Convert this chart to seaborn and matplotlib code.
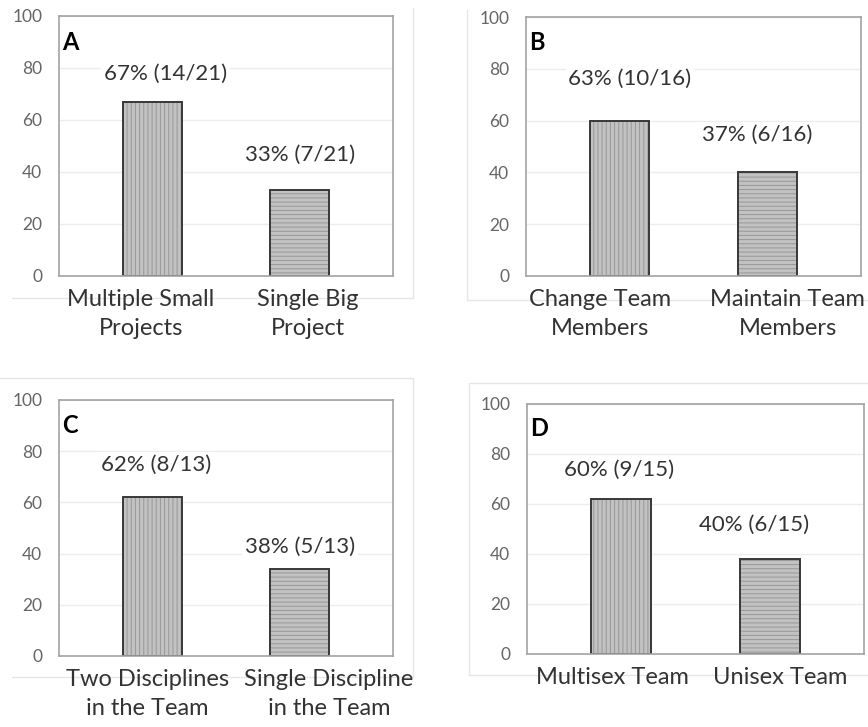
import matplotlib
matplotlib.use("Agg")
import matplotlib.pyplot as plt
import matplotlib.transforms as mtrans
import seaborn as sns
from matplotlib.lines import Line2D

# ---------------------------------
# data
# ---------------------------------
panel_letters = ["A", "B", "C", "D"]

cats_a = ["Multiple Small\nProjects", "Single Big\nProject"]
vals_a = [67, 33]
labels_a = ["67% (14/21)", "33% (7/21)"]

cats_b = ["Change Team\nMembers", "Maintain Team\nMembers"]
vals_b = [60, 40]
labels_b = ["63% (10/16)", "37% (6/16)"]

cats_c = ["Two Disciplines\nin the Team", "Single Discipline\nin the Team"]
vals_c = [62, 34]
labels_c = ["62% (8/13)", "38% (5/13)"]

cats_d = ["Multisex Team", "Unisex Team"]
vals_d = [62, 38]
labels_d = ["60% (9/15)", "40% (6/15)"]

y_ticks = [0, 20, 40, 60, 80, 100]

# ---------------------------------
# layout tweaks (label placement as in the original)
# ---------------------------------
# axes boxes in pixels: left, top, right, bottom
boxes = [(59, 16, 393, 276), (526, 17, 861, 276),
         (59, 400, 393, 656), (527, 404, 864, 654)]
# data-label offsets above bar top (y units) and sideways (x units)
lab_dy = [(10.7, 13.5), (16, 14.4), (12.6, 8.6), (11.6, 13.6)]
lab_dx = [(0.09, 0.0), (0.07, -0.07), (0.03, 0.0), (-0.01, -0.11)]
# horizontal nudge of category labels, pixels
tick_dx = [(-11, 8), (-19, 20), (-5, 29), (-9, 10)]

# ---------------------------------
# style
# ---------------------------------
sns.set_style("white")
plt.rcParams["font.family"] = ["Lato", "DejaVu Sans"]
plt.rcParams["hatch.linewidth"] = 0.7

W, H = 868, 727
fig = plt.figure(figsize=(W / 100, H / 100), dpi=100)

panels = [(cats_a, vals_a, labels_a), (cats_b, vals_b, labels_b),
          (cats_c, vals_c, labels_c), (cats_d, vals_d, labels_d)]

fill_col = "#c2c2c2"
hatch_col = "#979797"
edge_col = "#383838"
text_col = "#333333"

for k, ((l, t, r, b), (cats, vals, labs), letter) in enumerate(zip(boxes, panels, panel_letters)):
    ax = fig.add_axes([l / W, 1 - b / H, (r - l) / W, (b - t) / H])

    # hatched fill
    sns.barplot(x=cats, y=vals, color=fill_col, width=0.4, saturation=1,
                edgecolor=hatch_col, linewidth=0, ax=ax)
    for p, h in zip(ax.patches, ["||||", "----"]):
        p.set_hatch(h)
    # dark outline on top
    sns.barplot(x=cats, y=vals, color=edge_col, width=0.4, saturation=1,
                fill=False, linewidth=1.4, ax=ax)

    ax.set_ylim(0, 100)
    ax.set_xlim(-0.63, 1.63)
    ax.set_yticks(y_ticks)
    ax.yaxis.grid(True, color="#ededed", linewidth=1)
    ax.set_axisbelow(True)
    ax.tick_params(axis="y", length=0, pad=12, labelsize=12.5, labelcolor="#666666")
    ax.tick_params(axis="x", length=0, pad=9, labelsize=17, labelcolor=text_col)
    for s in ax.spines.values():
        s.set_visible(True)
        s.set_color("#a3a3a3")
        s.set_linewidth(1.2)

    for tl, dx in zip(ax.get_xticklabels(), tick_dx[k]):
        tl.set_linespacing(1.5)
        tl.set_transform(tl.get_transform() +
                         mtrans.ScaledTranslation(dx / 100, 0, fig.dpi_scale_trans))

    for i, (v, lab) in enumerate(zip(vals, labs)):
        ax.text(i + lab_dx[k][i], v + lab_dy[k][i], lab, ha="center", va="center",
                fontsize=16, color=text_col,
                bbox=dict(facecolor="white", edgecolor="none", pad=2))

    ax.text(0.008, 0.9, letter, transform=ax.transAxes, fontsize=17,
            fontweight="bold", color="black", ha="left", va="center")

# faint outer chart-area borders (as in the original figure)
def px_line(x0, y0, x1, y1):
    fig.add_artist(Line2D([x0 / W, x1 / W], [1 - y0 / H, 1 - y1 / H],
                          color="#e6e6e6", linewidth=1, zorder=0))

px_line(413, 8, 413, 298)
px_line(12, 298, 413, 298)
px_line(467, 10, 467, 300)
px_line(467, 300, 868, 300)
px_line(0, 378, 413, 378)
px_line(413, 378, 413, 677)
px_line(12, 677, 413, 677)
px_line(469, 383, 868, 383)
px_line(469, 383, 469, 675)
px_line(469, 675, 868, 675)

fig.savefig("out.png", dpi=100)
